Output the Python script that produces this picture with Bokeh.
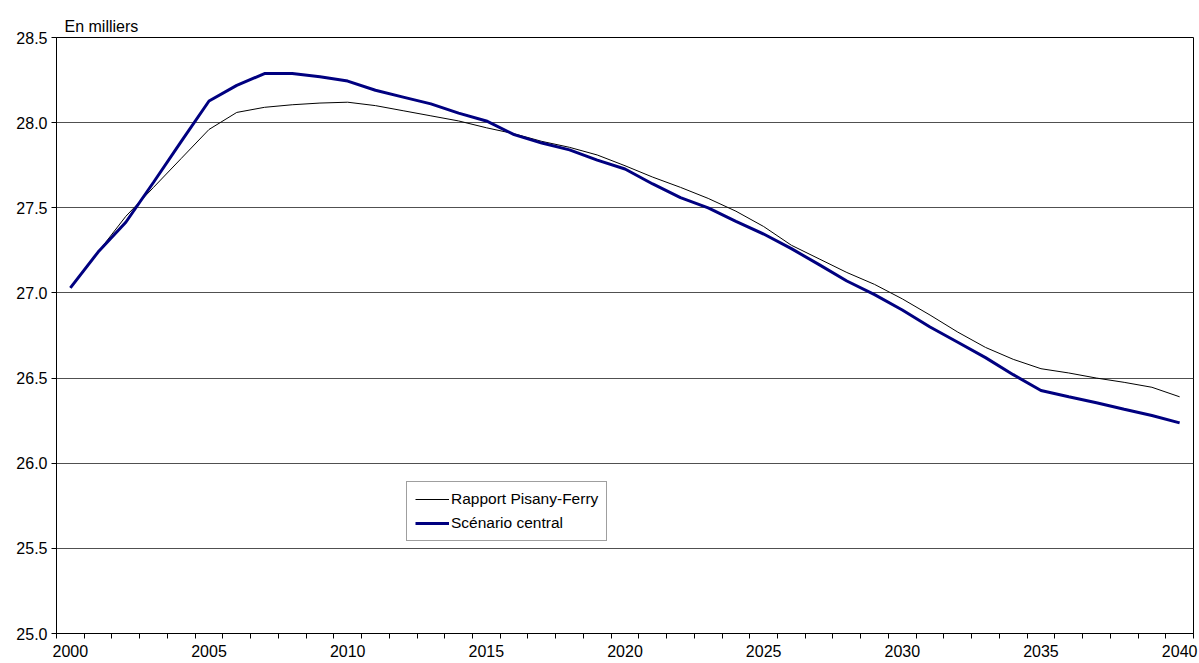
from bokeh.plotting import figure
from bokeh.models import FixedTicker, PrintfTickFormatter, Range1d, Legend, LegendItem
from bokeh.embed import file_html
from bokeh.resources import INLINE

years = list(range(2000, 2041))
rapport_pisany_ferry = [
    27.03, 27.24, 27.45, 27.62, 27.79, 27.96, 28.06, 28.09, 28.105, 28.115,
    28.12, 28.10, 28.07, 28.04, 28.01, 27.97, 27.935, 27.89, 27.855, 27.81,
    27.747, 27.68, 27.62, 27.555, 27.48, 27.39, 27.28, 27.20, 27.12, 27.05,
    26.965, 26.87, 26.77, 26.68, 26.61, 26.555, 26.53, 26.50, 26.475, 26.446,
    26.39,
]
scenario_central = [
    27.03, 27.24, 27.415, 27.65, 27.89, 28.127, 28.219, 28.288, 28.288, 28.27,
    28.244, 28.19, 28.15, 28.11, 28.056, 28.01, 27.93, 27.88, 27.84, 27.78,
    27.728, 27.64, 27.56, 27.50, 27.42, 27.346, 27.26, 27.166, 27.07, 26.99,
    26.90, 26.80, 26.71, 26.62, 26.52, 26.427, 26.39, 26.355, 26.317, 26.28,
    26.237,
]
y_ticks = [25.0, 25.5, 26.0, 26.5, 27.0, 27.5, 28.0, 28.5]
x_label_ticks = [2000, 2005, 2010, 2015, 2020, 2025, 2030, 2035, 2040]
series_names = ["Rapport Pisany-Ferry", "Scénario central"]
unit_label = "En milliers"

FONT = "Liberation Sans"

p = figure(width=1199, height=663, output_backend="svg", toolbar_location=None,
           x_range=Range1d(1999.5, 2040.5), y_range=Range1d(25.0, 28.5),
           min_border_left=56, min_border_right=6, min_border_top=37, min_border_bottom=30,
           title=unit_label)
p.background_fill_color = "white"
p.border_fill_color = "white"
p.outline_line_color = "black"
p.outline_line_width = 1

p.title.text_font = FONT
p.title.text_font_size = "16px"
p.title.text_font_style = "normal"
p.title.text_color = "black"
p.title.align = "left"
p.title.offset = 8
p.title.standoff = 6

# grid
p.xgrid.visible = False
p.ygrid.ticker = FixedTicker(ticks=y_ticks)
p.ygrid.grid_line_color = "#505050"
p.ygrid.grid_line_width = 1

# x axis
xa = p.xaxis[0]
xa.ticker = FixedTicker(ticks=x_label_ticks, minor_ticks=[y - 0.5 for y in years] + [years[-1] + 0.5])
xa.major_tick_out = 0
xa.major_tick_in = 0
xa.minor_tick_out = 5
xa.minor_tick_in = 0
xa.minor_tick_line_color = "black"
xa.axis_line_color = "black"
xa.major_label_text_font = FONT
xa.major_label_text_font_size = "16px"
xa.major_label_text_color = "black"
xa.major_label_standoff = 6

# y axis
ya = p.yaxis[0]
ya.ticker = FixedTicker(ticks=y_ticks)
ya.formatter = PrintfTickFormatter(format="%.1f")
ya.major_tick_out = 5
ya.major_tick_in = 0
ya.minor_tick_out = 0
ya.minor_tick_in = 0
ya.axis_line_color = "black"
ya.major_tick_line_color = "black"
ya.major_label_text_font = FONT
ya.major_label_text_font_size = "16px"
ya.major_label_text_color = "black"
ya.major_label_standoff = 4

r1 = p.line(years, rapport_pisany_ferry, line_color="black", line_width=1)
r2 = p.line(years, scenario_central, line_color="#000080", line_width=3)

legend = Legend(items=[LegendItem(label=series_names[0], renderers=[r1]),
                       LegendItem(label=series_names[1], renderers=[r2])],
                location=(350, 92))
legend.label_text_font = FONT
legend.label_text_font_size = "15.5px"
legend.label_text_color = "black"
legend.glyph_width = 34
legend.glyph_height = 18
legend.label_height = 18
legend.label_standoff = 2
legend.padding = 8
legend.spacing = 6
legend.margin = 0
legend.border_line_color = "#404040"
legend.border_line_width = 1
legend.background_fill_color = "white"
legend.background_fill_alpha = 1
p.add_layout(legend, "center")

open("out.html", "w").write(file_html(p, INLINE))
